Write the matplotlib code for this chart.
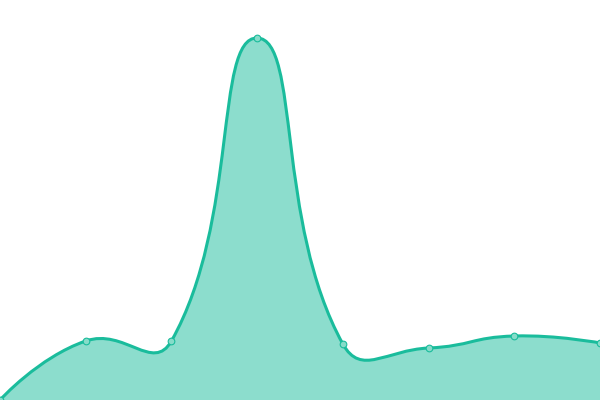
import matplotlib
matplotlib.use("Agg")
import matplotlib.pyplot as plt
from matplotlib.path import Path
from matplotlib.patches import PathPatch
import numpy as np

categories = ["A", "B", "C", "D", "E", "F", "G", "H"]
values = [0, 59, 59, 362, 56, 52, 64, 57]

line_color = "#1abc9c"
smooth = 0.5

fig = plt.figure(figsize=(6, 4), dpi=100)
ax = fig.add_axes([0, 0, 1, 1])
ax.set_xlim(0, len(categories) - 1)
ax.set_ylim(0, 400)
ax.axis("off")

# smooth bezier through the points, computed in pixel space
xs = np.arange(len(categories))
pts = ax.transData.transform(np.column_stack([xs, values]))
verts = [pts[0]]
codes = [Path.MOVETO]
cp0 = pts[0]
for k in range(1, len(pts)):
    p = pts[k]
    prev = pts[k - 1]
    if k == len(pts) - 1:
        ncp = p
        v = np.zeros(2)
        ratio = 0.5
    else:
        nxt = pts[k + 1]
        v = nxt - prev
        l0 = np.hypot(*(p - prev))
        l1 = np.hypot(*(nxt - p))
        ratio = l1 / (l0 + l1)
        ncp = p - v * smooth * (1 - ratio)
    verts += [cp0, ncp, p]
    codes += [Path.CURVE4] * 3
    cp0 = p + v * smooth * ratio

inv = ax.transData.inverted()
curve = inv.transform(np.array(verts))

line_path = Path(curve, codes)
ax.add_patch(PathPatch(line_path, fill=False, edgecolor=line_color, lw=2.2,
                       capstyle="round", joinstyle="round", zorder=3))

area_verts = list(curve) + [(xs[-1], 0), (xs[0], 0), curve[0]]
area_codes = codes + [Path.LINETO, Path.LINETO, Path.CLOSEPOLY]
ax.add_patch(PathPatch(Path(area_verts, area_codes), facecolor=line_color,
                       alpha=0.5, edgecolor="none", zorder=2))

ax.plot(xs, values, linestyle="none", marker="o", markersize=4.8,
        markerfacecolor="#86dcc9", markeredgecolor=line_color,
        markeredgewidth=0.8, zorder=4, clip_on=False)

fig.savefig("out.png", dpi=100)
